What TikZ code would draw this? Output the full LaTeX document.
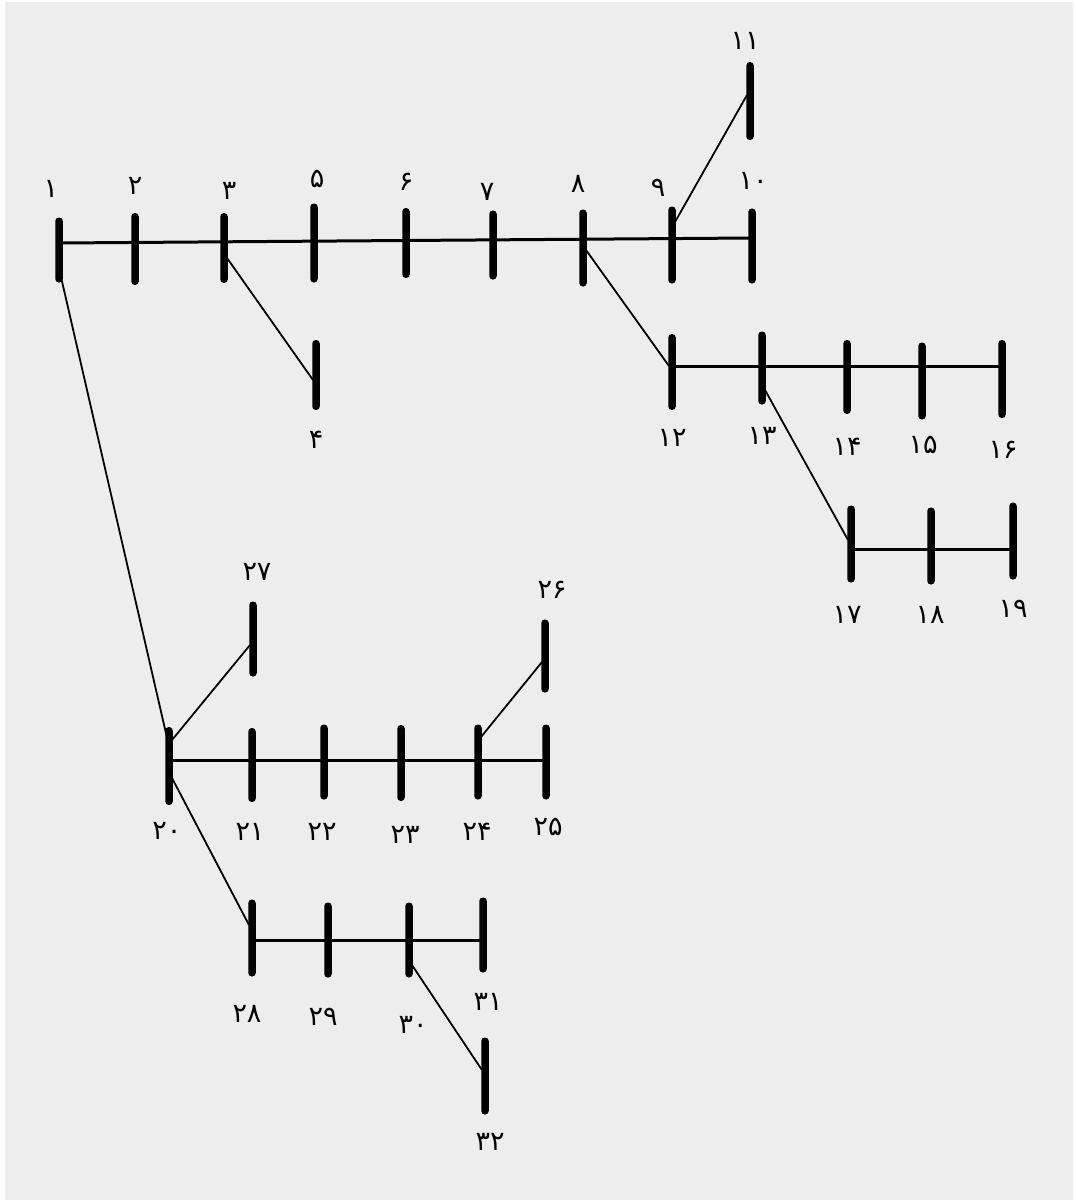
\documentclass[tikz,border=0pt]{standalone}
\usepackage{fontspec}
\newfontfamily\fa[Script=Arabic]{DejaVu Sans}
\begin{document}
\begin{tikzpicture}[x=1pt,y=-1pt,
  bus/.style={rectangle,fill=black,draw=none,inner sep=0pt,minimum width=7.5pt,minimum height=#1,rounded corners=3.5pt},
  bus/.default=76pt,
  feeder/.style={line width=3pt},
  branch/.style={line width=1.8pt},
  lbl/.style={font=\fa\fontsize{27}{30}\selectfont,inner sep=0pt}]
\useasboundingbox (0,0) rectangle (1076,1202);
\fill[white] (0,0) rectangle (1076,1202);
\fill[black!7] (5,2) rectangle (1073,1200);
% rows
\coordinate (r1a) at (0,243);
\coordinate (r1b) at (0,238);
\coordinate (r2) at (0,366);
\coordinate (r3) at (0,549);
\coordinate (r4) at (0,760);
\coordinate (r5) at (0,940);
% buses
\node[bus=65pt] (b1) at (59,250) {};
\node[bus=72pt] (b2) at (135,249) {};
\node[bus=70pt] (b3) at (224,248) {};
\node[bus=79pt] (b5) at (314,243) {};
\node[bus=70pt] (b6) at (406,243) {};
\node[bus=69pt] (b7) at (493,245) {};
\node[bus=77pt] (b8) at (583,248) {};
\node[bus=77pt] (b9) at (672,245) {};
\node[bus=75pt] (b10) at (752,246) {};
\node[bus=78pt] (b11) at (750,101) {};
\node[bus=70pt] (b4) at (316,375) {};
\node[bus=76pt] (b12) at (672,372) {};
\node[bus=73pt] (b13) at (762,368) {};
\node[bus=74pt] (b14) at (847,377) {};
\node[bus=77pt] (b15) at (922,381) {};
\node[bus=78pt] (b16) at (1002,379) {};
\node[bus=77pt] (b17) at (851,544) {};
\node[bus=77pt] (b18) at (931,546) {};
\node[bus=77pt] (b19) at (1013,541) {};
\node[bus=78pt] (b20) at (169,766) {};
\node[bus=74pt] (b21) at (252,765) {};
\node[bus=75pt] (b22) at (324,762) {};
\node[bus=76pt] (b23) at (401,763) {};
\node[bus=75pt] (b24) at (478,762) {};
\node[bus=75pt] (b25) at (546,762) {};
\node[bus=75pt] (b27) at (253,639) {};
\node[bus=73pt] (b26) at (545,656) {};
\node[bus=77pt] (b28) at (252,938) {};
\node[bus=75pt] (b29) at (328,940) {};
\node[bus=75pt] (b30) at (409,940) {};
\node[bus=75pt] (b31) at (483,935) {};
\node[bus=77pt] (b32) at (485,1076) {};
% feeders
\draw[feeder] (b1 |- r1a) -- (b10 |- r1b);
\draw[feeder] (b12 |- r2) -- (b16 |- r2);
\draw[feeder] (b17 |- r3) -- (b19 |- r3);
\draw[feeder] (b20 |- r4) -- (b25 |- r4);
\draw[feeder] (b28 |- r5) -- (b31 |- r5);
% branches
\draw[branch] ([xshift=3pt,yshift=23pt]b9.center) -- ([xshift=-3pt,yshift=6pt]b11.center);
\draw[branch] ([xshift=3pt,yshift=-10pt]b3.center) -- ([xshift=-3pt,yshift=-5pt]b4.center);
\draw[branch] ([xshift=3pt,yshift=-2pt]b8.center) -- ([xshift=-3pt,yshift=6pt]b12.center);
\draw[branch] ([xshift=3pt,yshift=-22pt]b13.center) -- ([xshift=-3pt,yshift=4pt]b17.center);
\draw[branch] ([xshift=2pt,yshift=-27pt]b1.center) -- ([xshift=-1pt,yshift=24pt]b20.center);
\draw[branch] ([xshift=3pt,yshift=26pt]b20.center) -- ([xshift=-3pt,yshift=-6pt]b27.center);
\draw[branch] ([xshift=3pt,yshift=25pt]b24.center) -- ([xshift=-3pt,yshift=-6pt]b26.center);
\draw[branch] ([xshift=3pt,yshift=-12pt]b20.center) -- ([xshift=-3pt,yshift=13pt]b28.center);
\draw[branch] ([xshift=3pt,yshift=-25pt]b30.center) -- ([xshift=-3pt,yshift=6pt]b32.center);
% labels
\node[lbl] (l1) at (51,189) {۱};
\node[lbl] (l2) at (135,186) {۲};
\node[lbl] (l3) at (229,191) {۳};
\node[lbl] (l5) at (317,179) {۵};
\node[lbl] (l6) at (406,182) {۶};
\node[lbl] (l7) at (487,192) {۷};
\node[lbl] (l8) at (578,184) {۸};
\node[lbl] (l9) at (658,188) {۹};
\node[lbl] (l10) at (753,181) {۱۰};
\node[lbl] (l11) at (745,41) {۱۱};
\node[lbl] (l4) at (316,440) {۴};
\node[lbl] (l12) at (672,438) {۱۲};
\node[lbl] (l13) at (762,436) {۱۳};
\node[lbl] (l14) at (847,447) {۱۴};
\node[lbl] (l15) at (923,445) {۱۵};
\node[lbl] (l16) at (1003,450) {۱۶};
\node[lbl] (l17) at (847,615) {۱۷};
\node[lbl] (l18) at (930,615) {۱۸};
\node[lbl] (l19) at (1013,609) {۱۹};
\node[lbl] (l20) at (167,831) {۲۰};
\node[lbl] (l21) at (250,832) {۲۱};
\node[lbl] (l22) at (322,832) {۲۲};
\node[lbl] (l23) at (405,835) {۲۳};
\node[lbl] (l24) at (477,832) {۲۴};
\node[lbl] (l25) at (548,827) {۲۵};
\node[lbl] (l27) at (257,572) {۲۷};
\node[lbl] (l26) at (552,590) {۲۶};
\node[lbl] (l28) at (247,1014) {۲۸};
\node[lbl] (l29) at (323,1017) {۲۹};
\node[lbl] (l30) at (413,1025) {۳۰};
\node[lbl] (l31) at (488,1002) {۳۱};
\node[lbl] (l32) at (490,1142) {۳۲};
\end{tikzpicture}
\end{document}
